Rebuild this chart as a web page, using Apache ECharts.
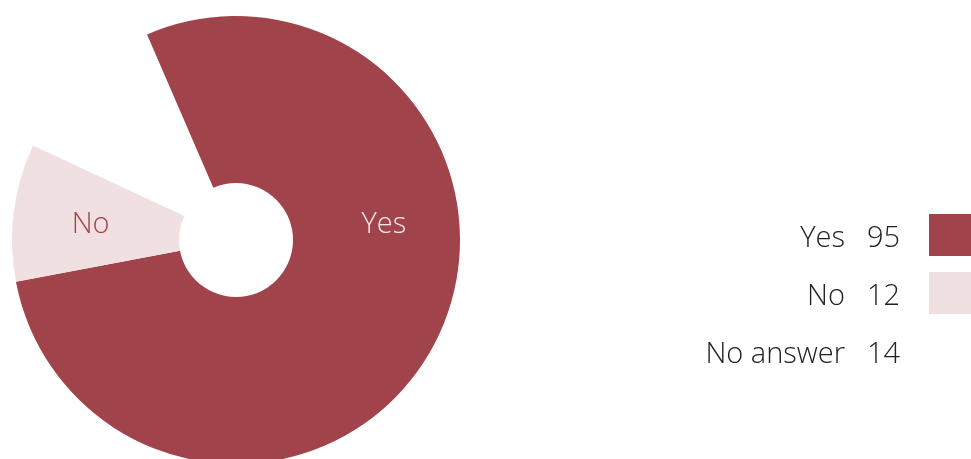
<!DOCTYPE html>
<html>
<head>
<meta charset="utf-8">
<script src="https://cdn.jsdelivr.net/npm/echarts@6/dist/echarts.min.js"></script>
<style>
  html, body { margin: 0; padding: 0; background: #fff; }
  #chart { width: 971px; height: 459px; }
</style>
</head>
<body>
<div id="chart"></div>
<script>
// Survey answers
const categories = ['Yes', 'No', 'No answer'];
const counts = [95, 12, 14];
const colors = ['#a0434a', '#f0e0e2', 'rgba(255,255,255,0)'];
const labelColors = ['#f8e8ea', '#a0434a', 'transparent'];

const FONT = '"Open Sans", "Noto Sans", sans-serif';
const FS = 29;
const chart = echarts.init(document.getElementById('chart'), null, { renderer: 'canvas' });

const pieData = categories.map((name, i) => ({
  name,
  value: counts[i],
  itemStyle: { color: colors[i] },
  label: { show: i < 2, color: labelColors[i] }
}));

chart.setOption({
  animation: false,
  legend: {
    orient: 'vertical',
    right: 0,
    top: 214,
    padding: 0,
    align: 'right',
    itemWidth: 42,
    itemHeight: 42,
    itemGap: 16,
    icon: 'rect',
    selectedMode: false,
    data: categories,
    formatter: name => '{n|' + name + '}{v|' + counts[categories.indexOf(name)] + '}',
    textStyle: {
      padding: [7, 0, 0, 0],
      rich: {
        n: { align: 'left', padding: [0, 22, 0, 0], fontSize: FS, fontFamily: FONT, fontWeight: 300, color: '#222' },
        v: { align: 'left', width: 57, fontSize: FS, fontFamily: FONT, fontWeight: 300, color: '#222' }
      }
    }
  },
  series: [{
    type: 'pie',
    center: [236, 240],
    radius: [57, 224],
    startAngle: 113.4,
    clockwise: true,
    avoidLabelOverlap: false,
    silent: true,
    label: {
      position: 'inside',
      formatter: '{b}',
      fontSize: FS,
      fontFamily: FONT,
      fontWeight: 300
    },
    labelLine: { show: false },
    labelLayout: params => {
      // place the larger slice's label a bit above its middle
      if (params.dataIndex === 0) {
        const ang = 83 * Math.PI / 180, r = 149;
        return { x: 236 + r * Math.sin(ang), y: 243 - r * Math.cos(ang), align: 'center', verticalAlign: 'middle' };
      }
      return { dx: -3, dy: 2 };
    },
    data: pieData
  }]
});
</script>
</body>
</html>
